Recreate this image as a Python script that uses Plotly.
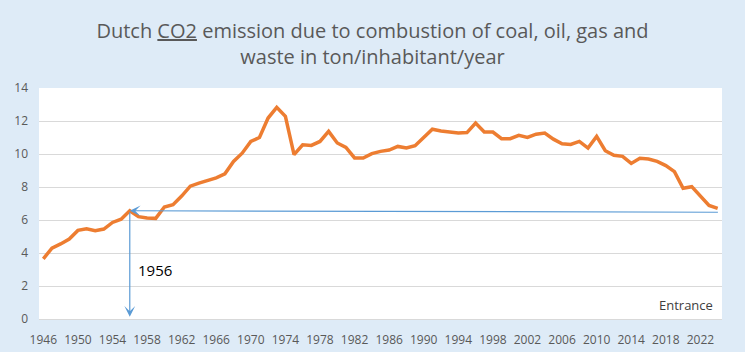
import plotly.graph_objects as go

years = list(range(1946, 2025))
co2_per_inhabitant = [
    3.65, 4.3, 4.55, 4.85, 5.37, 5.47, 5.35, 5.45, 5.85, 6.05,
    6.56, 6.2, 6.12, 6.1, 6.79, 6.93, 7.45, 8.05, 8.24, 8.4,
    8.55, 8.8, 9.55, 10.05, 10.76, 11.0, 12.18, 12.83, 12.28, 9.96,
    10.56, 10.52, 10.76, 11.37, 10.67, 10.4, 9.76, 9.76, 10.02, 10.16,
    10.24, 10.46, 10.36, 10.5, 11.0, 11.5, 11.4, 11.35, 11.28, 11.3,
    11.88, 11.33, 11.33, 10.93, 10.93, 11.13, 11.0, 11.2, 11.27, 10.9,
    10.62, 10.58, 10.76, 10.36, 11.07, 10.2, 9.92, 9.86, 9.43, 9.74,
    9.7, 9.55, 9.3, 8.93, 7.92, 8.02, 7.41, 6.88, 6.71,
]
x_tick_years = list(range(1946, 2023, 4))
y_ticks = list(range(0, 15, 2))

marked_year = 1956
marked_value = co2_per_inhabitant[years.index(marked_year)]
reference_line_end = 6.47   # level of the horizontal arrow at the right end
arrow_bottom = 0.13
label_value = 3.0

FONT = "Open Sans"
GREY = "#595959"
BLUE = "#5B9BD5"

fig = go.Figure()
fig.add_trace(go.Scatter(
    x=years, y=co2_per_inhabitant, mode="lines",
    line=dict(color="#ED7D31", width=3.5),
    hoverinfo="skip", showlegend=False,
))

fig.update_layout(
    width=745, height=352,
    margin=dict(l=39, r=23, t=88, b=33),
    paper_bgcolor="#DEEBF7",
    plot_bgcolor="#FFFFFF",
    font=dict(family=FONT, color=GREY, size=12),
    title=dict(
        text="Dutch <u>CO2</u> emission due to combustion of coal, oil, gas and<br>waste in ton/inhabitant/year",
        x=0.5, xref="container", xanchor="center",
        y=1 - 38 / 352, yref="container", yanchor="middle",
        font=dict(family=FONT, size=20, color=GREY),
    ),
    xaxis=dict(
        range=[years[0] - 0.5, years[-1] + 0.5],
        tickvals=x_tick_years, ticktext=[str(y) for y in x_tick_years],
        showgrid=False, zeroline=False, showline=False,
        ticks="", ticklabelstandoff=12, automargin=False,
        tickfont=dict(family=FONT, size=12, color=GREY),
        fixedrange=True,
    ),
    yaxis=dict(
        range=[0, 14], tickvals=y_ticks,
        showgrid=True, gridcolor="#D9D9D9", gridwidth=1,
        zeroline=True, zerolinecolor="#D9D9D9", zerolinewidth=1,
        showline=False, ticks="", ticklabelstandoff=10, automargin=False,
        tickfont=dict(family=FONT, size=12, color=GREY),
        fixedrange=True,
    ),
)

# horizontal arrow pointing left to the marked year
fig.add_annotation(
    x=marked_year, y=marked_value, xref="x", yref="y",
    ax=years[-1] + 0.2, ay=reference_line_end, axref="x", ayref="y",
    text="", showarrow=True, arrowhead=3, arrowsize=1.5, arrowwidth=1.2,
    arrowcolor=BLUE, standoff=0, startstandoff=0,
)
# vertical arrow pointing down to the axis
fig.add_annotation(
    x=marked_year, y=arrow_bottom, xref="x", yref="y",
    ax=marked_year, ay=marked_value, axref="x", ayref="y",
    text="", showarrow=True, arrowhead=3, arrowsize=1.5, arrowwidth=1.2,
    arrowcolor=BLUE, standoff=0, startstandoff=0,
)
fig.add_annotation(
    x=marked_year + 0.7, y=label_value, xref="x", yref="y",
    text=str(marked_year), showarrow=False, xanchor="left", yanchor="middle",
    font=dict(family=FONT, size=15, color="#000000"),
)
fig.add_annotation(
    x=0.99, y=0.06, xref="paper", yref="paper",
    text="Entrance", showarrow=False, xanchor="right", yanchor="middle",
    font=dict(family=FONT, size=13, color="#404040"),
)

fig.write_html("out.html")
